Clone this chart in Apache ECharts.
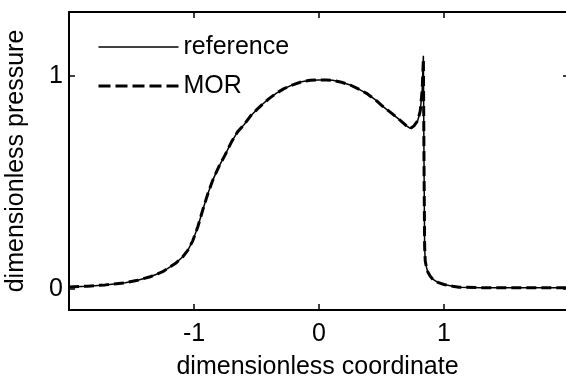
<!DOCTYPE html>
<html>
<head>
<meta charset="utf-8">
<script src="https://cdn.jsdelivr.net/npm/echarts@6/dist/echarts.min.js"></script>
<style>html,body{margin:0;padding:0;background:#fff}#c{width:566px;height:376px}</style>
</head>
<body>
<div id="c"></div>
<script>
var coords = [-2.00,-1.85,-1.71,-1.55,-1.45,-1.35,-1.25,-1.15,-1.09,-1.05,-1.01,-0.97,-0.93,-0.89,-0.85,-0.80,-0.75,-0.70,-0.65,-0.60,-0.55,-0.50,-0.45,-0.40,-0.34,-0.28,-0.21,-0.14,-0.07,0.00,0.06,0.11,0.18,0.25,0.31,0.38,0.45,0.51,0.58,0.65,0.70,0.73,0.76,0.79,0.81,0.825,0.835,0.840,0.845,0.850,0.86,0.87,0.89,0.91,0.95,1.00,1.07,1.12,1.30,1.60,2.00];
var referenceValues = [0.008,0.012,0.018,0.028,0.040,0.056,0.080,0.118,0.150,0.180,0.225,0.290,0.370,0.445,0.510,0.575,0.630,0.690,0.738,0.770,0.810,0.840,0.868,0.893,0.919,0.940,0.958,0.972,0.979,0.981,0.981,0.979,0.970,0.957,0.940,0.918,0.888,0.857,0.825,0.791,0.765,0.753,0.765,0.790,0.835,0.930,1.094,0.600,0.200,0.130,0.100,0.080,0.058,0.045,0.030,0.020,0.012,0.007,0.005,0.005,0.005];
var morValues = [0.008,0.012,0.018,0.028,0.040,0.056,0.080,0.118,0.150,0.180,0.225,0.290,0.370,0.445,0.510,0.575,0.630,0.690,0.738,0.770,0.810,0.840,0.868,0.893,0.919,0.940,0.958,0.972,0.979,0.981,0.981,0.979,0.970,0.957,0.940,0.918,0.888,0.857,0.825,0.791,0.765,0.753,0.765,0.790,0.835,0.930,1.080,0.600,0.200,0.130,0.100,0.080,0.058,0.045,0.030,0.020,0.012,0.007,0.005,0.005,0.005];
var xTicks = [-1, 0, 1];
var yTicks = [0, 1];
var seriesNames = ['reference', 'MOR'];

function pairs(xs, ys) { return xs.map(function (x, i) { return [x, ys[i]]; }); }

var FONT = '"Liberation Sans", Arial, sans-serif';
var X_MIN = -2, X_MAX = 1.976; // visible part of the axis (the figure is cropped at the right)
var axisCommon = {
  axisLine: { show: true, onZero: false, lineStyle: { color: '#000', width: 2 } },
  splitLine: { show: false }
};
var chart = echarts.init(document.getElementById('c'), null, { renderer: 'canvas' });
chart.setOption({
  animation: false,
  backgroundColor: '#fff',
  textStyle: { fontFamily: FONT, color: '#000' },
  grid: { left: 69, top: 12, right: 0, bottom: 66, containLabel: false, outerBoundsMode: 'none' },
  legend: {
    orient: 'vertical', left: 97, top: 33, padding: 0,
    itemWidth: 80, itemHeight: 14, itemGap: 11,
    itemStyle: { opacity: 0 },
    textStyle: { fontSize: 25, color: '#000', fontFamily: FONT, lineHeight: 28 },
    data: [
      { name: seriesNames[0], lineStyle: { width: 1.5, type: 'solid', color: '#000' } },
      { name: seriesNames[1], lineStyle: { width: 3, type: [12, 5], color: '#000' } }
    ]
  },
  xAxis: [
    Object.assign({}, axisCommon, {
      type: 'value', min: X_MIN, max: X_MAX, position: 'bottom',
      name: 'dimensionless coordinate', nameLocation: 'middle', nameGap: 45,
      nameTextStyle: { fontSize: 25, color: '#000', fontFamily: FONT },
      axisTick: { show: true, inside: true, length: 6, customValues: xTicks, lineStyle: { color: '#000', width: 1.5 } },
      axisLabel: { show: true, margin: 12, fontSize: 25, color: '#000', fontFamily: FONT, customValues: xTicks }
    }),
    Object.assign({}, axisCommon, {
      type: 'value', min: X_MIN, max: X_MAX, position: 'top',
      axisTick: { show: true, inside: true, length: 6, customValues: xTicks, lineStyle: { color: '#000', width: 1.5 } },
      axisLabel: { show: false }
    })
  ],
  yAxis: [
    Object.assign({}, axisCommon, {
      type: 'value', min: -0.1, max: 1.3, position: 'left',
      name: 'dimensionless pressure', nameLocation: 'middle', nameGap: 40,
      nameTextStyle: { fontSize: 25, color: '#000', fontFamily: FONT },
      axisTick: { show: true, inside: true, length: 6, customValues: yTicks, lineStyle: { color: '#000', width: 1.5 } },
      axisLabel: { show: true, margin: 6, fontSize: 25, color: '#000', fontFamily: FONT, customValues: yTicks }
    }),
    {
      type: 'value', min: -0.1, max: 1.3, position: 'right',
      axisLine: { show: false, onZero: false }, splitLine: { show: false },
      axisTick: { show: true, inside: true, length: 3, customValues: yTicks, lineStyle: { color: '#000', width: 1.5 } },
      axisLabel: { show: false }
    }
  ],
  series: [
    {
      name: seriesNames[0], type: 'line', xAxisIndex: 0, yAxisIndex: 0,
      data: pairs(coords, referenceValues), symbol: 'none', showSymbol: false,
      lineStyle: { color: '#000', width: 1.5, type: 'solid' }, itemStyle: { color: '#000' }
    },
    {
      name: seriesNames[1], type: 'line', xAxisIndex: 0, yAxisIndex: 0,
      data: pairs(coords, morValues), symbol: 'none', showSymbol: false,
      lineStyle: { color: '#000', width: 3, type: [10, 5] }, itemStyle: { color: '#000' }
    }
  ]
});
</script>
</body>
</html>
